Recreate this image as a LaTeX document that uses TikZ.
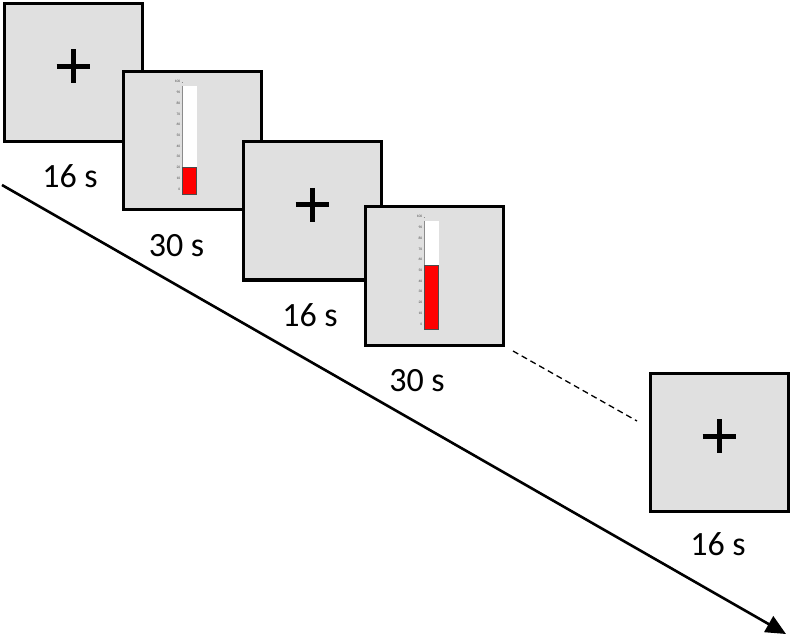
\documentclass[tikz,border=0pt]{standalone}
\usepackage{fontspec}
\setmainfont{Carlito}
\usetikzlibrary{arrows.meta}
\definecolor{boxgray}{RGB}{224,224,224}
\definecolor{tubegray}{RGB}{140,140,140}
\tikzset{
  stim/.style={draw=black, line width=3pt, fill=boxgray, minimum size=138pt, inner sep=0pt},
  dur/.style={font=\fontsize{34}{34}\selectfont, inner sep=0pt},
  plusarm/.style={line width=5pt, line cap=butt},
  tick/.style={draw=tubegray, line width=0.3pt},
  scalelbl/.style={font=\fontsize{3.6}{4}\selectfont, text=black!70, inner sep=0pt, anchor=east},
  pics/crosshair/.style={code={
    \draw[plusarm] (-16.5,-6) -- (16.5,-6);
    \draw[plusarm] (0,-23) -- (0,11);
  }},
  pics/thermo/.style={code={
    \fill[white] (-9.5,-55) rectangle (4.5,53);
    \draw[tubegray, line width=0.5pt] (-9.5,-55) -- (-9.5,53);
    \foreach \v in {0,10,...,100}{
      \node[scalelbl] at (-11.5,{48-1.073*\v}) {\v};
      \draw[tick] (-10.5,{48-1.073*\v}) -- (-9.5,{48-1.073*\v});
    }
    \foreach \v in {5,15,...,95}{
      \draw[tick] (-10,{48-1.073*\v}) -- (-9.5,{48-1.073*\v});
    }
    \filldraw[fill=red, draw=black!70, line width=0.6pt] (-9.5,{48-1.073*#1}) rectangle (4.5,53);
  }}
}
\begin{document}
\begin{tikzpicture}[x=1pt,y=-1pt]
\useasboundingbox (0,0) rectangle (792,636);
% stimulus 1
\node[stim] (b1) at (73,72.5) {};
\pic at (b1.center) {crosshair};
\node[dur] (l1) at (70,176) {16 s};
% stimulus 2
\node[stim] (b2) at (192,141) {};
\pic at (b2.center) {thermo=20};
\node[dur] (l2) at (176.5,245.5) {30 s};
% stimulus 3
\node[stim] (b3) at (312,211) {};
\pic at (b3.center) {crosshair};
\node[dur] (l3) at (310,315.5) {16 s};
% stimulus 4
\node[stim] (b4) at (434,276) {};
\pic at (b4.center) {thermo=55};
\node[dur] (l4) at (417,380.5) {30 s};
% continuation
\coordinate (d1) at (513,351);
\coordinate (d2) at (637,421);
\draw[dashed, line width=1.3pt, dash pattern=on 6pt off 4pt] (d1) -- (d2);
% stimulus 5
\node[stim] (b5) at (719,442) {};
\pic at (b5.center) {crosshair};
\node[dur] (l5) at (718,544) {16 s};
% time arrow
\coordinate (as) at (2,185);
\coordinate (ae) at (786,634);
\draw[line width=2.6pt, -{Triangle[length=20pt,width=18pt]}] (as) -- (ae);
\end{tikzpicture}
\end{document}
